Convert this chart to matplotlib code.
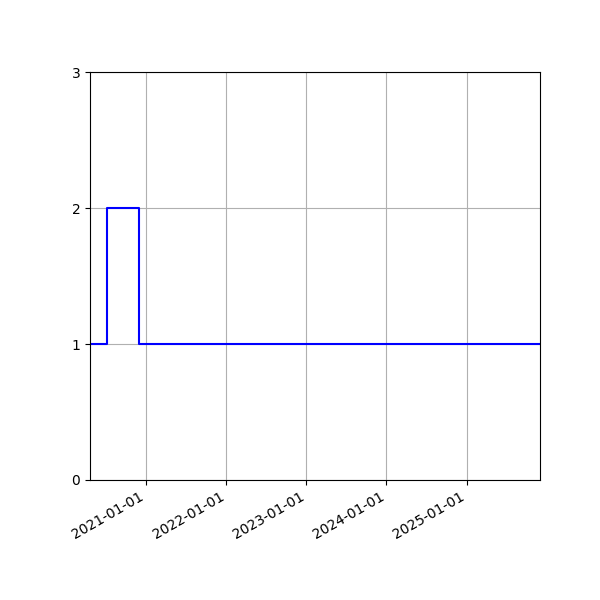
import matplotlib
matplotlib.use("Agg")
import matplotlib.pyplot as plt
import matplotlib.dates as mdates
import numpy as np

dates = np.array(["2020-04-19", "2020-07-04", "2020-11-29", "2025-12-02"], dtype="datetime64[D]")
values = [1, 2, 1, 1]

fig = plt.figure(figsize=(6, 6), dpi=100)
ax = fig.add_subplot(111)
ax.plot(dates, values, drawstyle="steps-post", color="blue")
ax.set_xlim(dates[0], dates[-1])
ax.set_ylim(0, 3)
ax.set_yticks([0, 1, 2, 3])
ax.xaxis.set_major_locator(mdates.YearLocator())
ax.xaxis.set_major_formatter(mdates.DateFormatter("%Y-%m-%d"))
ax.grid(True)
fig.autofmt_xdate()
fig.subplots_adjust(left=0.15, right=0.9, top=0.88, bottom=0.2)
fig.savefig("out.png")
